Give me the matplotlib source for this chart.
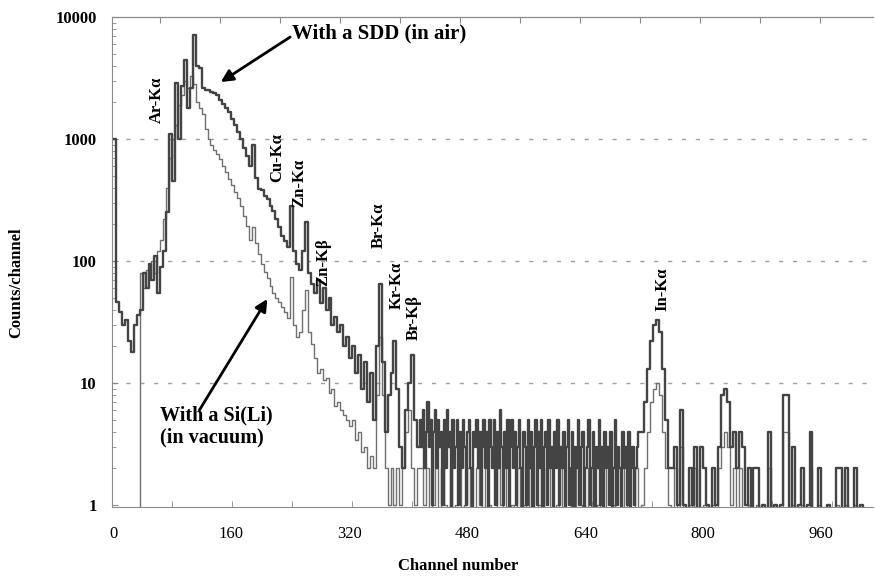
import numpy as np
import matplotlib.pyplot as plt

plt.rcParams['font.family'] = ['Liberation Serif', 'DejaVu Serif']

# SDD (in air): counts
sdd_low = [1000, 46, 38, 30, 33, 22, 18, 30, 36, 40,          # ch 0-36, every 4
           80, 60, 95, 70, 110, 55, 90, 120, 250, 1100,       # 40-76
           450, 2900, 1000, 2700, 4400, 1800, 2600, 7100, 4000, 3800,  # 80-116
           2600, 2500, 2500, 2450, 2400, 2300, 2100, 1950, 1800, 1650,  # 120-156
           1450, 1300, 1150, 1000, 850, 720, 600, 900, 480, 390,  # 160-196
           380, 340, 320, 280, 255, 220, 190, 160, 145, 130,  # 200-236
           280, 120, 95, 85, 120, 210, 80, 65, 55, 70,        # 240-276
           45, 60, 40, 50, 30, 35, 26, 30, 20, 24,            # 280-316
           16, 20, 12, 17, 9, 15, 7, 12, 5, 20,               # 320-356
           65, 15, 4, 8, 12, 22, 9, 3, 2, 6,                  # 360-396
           10, 17, 5, 3]                                      # 400-412
sdd_noise = [5, 3, 6, 2, 4, 7, 3, 5, 1, 4,                    # ch 416-712, every 2
             6, 2, 5, 3, 4, 1, 5, 2, 6, 3,
             4, 0, 5, 2, 3, 5, 1, 4, 2, 5,
             3, 1, 4, 5, 2, 0, 4, 3, 5, 2,
             4, 1, 3, 5, 2, 4, 0, 5, 3, 2,
             5, 1, 4, 2, 6, 3, 1, 4, 2, 5,
             0, 3, 5, 2, 4, 1, 3, 5, 2, 0,
             4, 3, 1, 5, 2, 4, 0, 3, 5, 1,
             4, 2, 5, 0, 3, 4, 1, 5, 2, 3,
             0, 4, 2, 5, 1, 3, 2, 4, 0, 3,
             5, 1, 2, 4, 0, 3, 2, 5, 1, 3,
             4, 0, 2, 3, 5, 1, 2, 4, 0, 3,
             2, 5, 1, 3, 0, 4, 2, 3, 1, 4,
             0, 2, 5, 1, 3, 2, 0, 4, 2, 3,
             1, 4, 0, 2, 3, 1, 2, 3, 4]
sdd_tail = [4, 7, 13, 22, 30, 33, 26, 13, 5, 2,               # ch 716-1020, every 4
            2, 3, 1, 6, 1, 0, 2, 1, 3, 0,
            3, 2, 1, 0, 2, 1, 3, 8, 9, 7,
            3, 4, 2, 4, 3, 1, 2, 0, 2, 2,
            0, 1, 0, 4, 0, 1, 0, 1, 8, 8,
            0, 3, 0, 1, 2, 0, 1, 4, 0, 0,
            2, 0, 0, 1, 0, 0, 2, 2, 0, 2,
            0, 0, 2, 0, 1, 0, 0]

# Si(Li) (in vacuum), every 4 channels from ch 0
sili_counts = [0, 0, 0, 0, 0, 0, 0, 0, 0, 80,
               60, 85, 75, 100, 80, 120, 150, 220, 400, 700,
               1000, 1300, 1900, 2300, 3000, 2600, 3300, 2800, 2000, 1800,
               1600, 1200, 1000, 900, 820, 760, 680, 600, 540, 470,
               420, 370, 330, 280, 235, 195, 150, 190, 140, 115,
               95, 82, 72, 62, 55, 50, 46, 42, 38, 34,
               74, 30, 24, 26, 40, 58, 26, 21, 16, 12,
               13, 10.5, 11, 8.3, 9, 6.5, 7, 6, 5.5, 5,
               4.4, 5, 3.4, 4, 2.7, 3, 2, 2.5, 2, 8,
               24, 8, 2, 1, 2, 1, 2, 1, 2, 4,
               6, 2, 1, 2,
               2, 1, 2, 0, 1, 2, 0, 2, 1, 0, 2, 0, 1, 2, 0, 1, 2, 0, 0, 2,
               1, 0, 2, 1, 0, 0, 2, 1, 0, 2, 0, 1, 0, 2, 0, 1, 0, 2, 0, 0,
               1, 2, 0, 0, 2, 0, 1,
               0, 2, 0, 0, 1, 2, 0, 0, 1, 0, 2, 0, 0, 1, 0, 2, 0, 0, 1, 0,
               0, 2, 0, 1, 0, 0, 2, 0,
               1, 2, 4, 7, 9, 10, 8, 4, 2, 1,
               0, 2, 0, 3, 0, 0, 1, 0, 2, 0,
               0, 1, 0, 0, 1, 0, 2, 3, 4, 3,
               1, 2, 0, 2, 0, 0, 1, 0, 0, 1,
               0, 0, 0, 2, 0, 0, 0, 0, 4, 4,
               0, 1, 0, 0, 1, 0, 0, 2, 0, 0,
               1, 0, 0, 0, 0, 0, 1, 0, 0, 1,
               0, 0, 1, 0, 0, 0, 0]

peak_labels = ['Ar-Kα', 'Cu-Kα', 'Zn-Kα', 'Zn-Kβ', 'Br-Kα', 'Kr-Kα', 'Br-Kβ', 'In-Kα']
label_ch = [59, 222, 252, 285, 360, 385, 408, 744]
label_y = [2090, 698, 436, 98, 197, 63.6, 34.1, 58.9]

ch_sdd = np.concatenate([np.arange(len(sdd_low)) * 4,
                         416 + np.arange(len(sdd_noise)) * 2,
                         716 + np.arange(len(sdd_tail)) * 4])
sdd = np.array(sdd_low + sdd_noise + sdd_tail, float)
sili = np.array(sili_counts, float)
ch_sili = np.arange(len(sili)) * 4

fig = plt.figure(figsize=(8.75, 5.76), dpi=100)
ax = fig.add_axes([0.128, 0.1198, 0.8697, 0.8507])
ax.set_yscale('log', nonpositive='clip')

ax.step(ch_sili, sili, where='post', color='#707070', lw=1.0)
ax.step(ch_sdd, sdd, where='post', color='#444444', lw=1.7)

ax.set_xlim(-1.5, 1030)
ax.set_ylim(0.963, 10000)

for v in [10, 100, 1000]:
    ax.axhline(v, color='#a0a0a0', lw=1, ls=(0, (3, 7)), zorder=0)

for s in ['left', 'bottom', 'top']:
    ax.spines[s].set_color('#8a8a8a')
ax.spines['right'].set_visible(False)

ax.set_xticks(np.arange(0, 961, 160))
ax.tick_params(axis='x', length=0, pad=14, labelsize=12)
ax.set_xticks(np.arange(80, 1000, 81.3), minor=True)
ax.tick_params(axis='x', which='minor', direction='in', length=4, color='#8a8a8a')
top = ax.secondary_xaxis('top')
top.set_xticks(np.arange(64, 1000, 81.3), labels=[])
top.tick_params(direction='in', length=4, color='#8a8a8a')
top.spines['top'].set_color('#8a8a8a')

ax.set_yticks([1, 10, 100, 1000, 10000], labels=['1', '10', '100', '1000', '10000'])
ax.tick_params(axis='y', which='major', direction='in', length=4, pad=11,
               labelsize=12, color='#8a8a8a')
ax.tick_params(axis='y', which='minor', direction='in', length=3, color='#8a8a8a')
for t in ax.get_yticklabels():
    t.set_fontweight('bold')

ax.set_xlabel('Channel number', fontsize=12, fontweight='bold')
ax.xaxis.set_label_coords(0.455, -0.104)
ax.set_ylabel('Counts/channel', fontsize=12, fontweight='bold')
ax.yaxis.set_label_coords(-0.115, 0.457)

for name, x, y in zip(peak_labels, label_ch, label_y):
    ax.text(x, y, name, rotation=90, ha='center', va='center',
            fontsize=12, fontweight='bold')

arrow = dict(arrowstyle='-|>', color='black', lw=2, mutation_scale=18,
             shrinkA=0, shrinkB=0)
ax.text(242, 7390, 'With a SDD (in air)', ha='left', va='center',
        fontsize=15, fontweight='bold')
ax.annotate('', xy=(146, 2930), xytext=(240, 6850), arrowprops=arrow)
ax.text(63, 6.5, 'With a Si(Li)\n(in vacuum)', ha='left', va='top',
        fontsize=14.5, fontweight='bold', linespacing=1.1)
ax.annotate('', xy=(209, 48.8), xytext=(117, 6.0), arrowprops=arrow)

fig.savefig('out.png', dpi=100)
